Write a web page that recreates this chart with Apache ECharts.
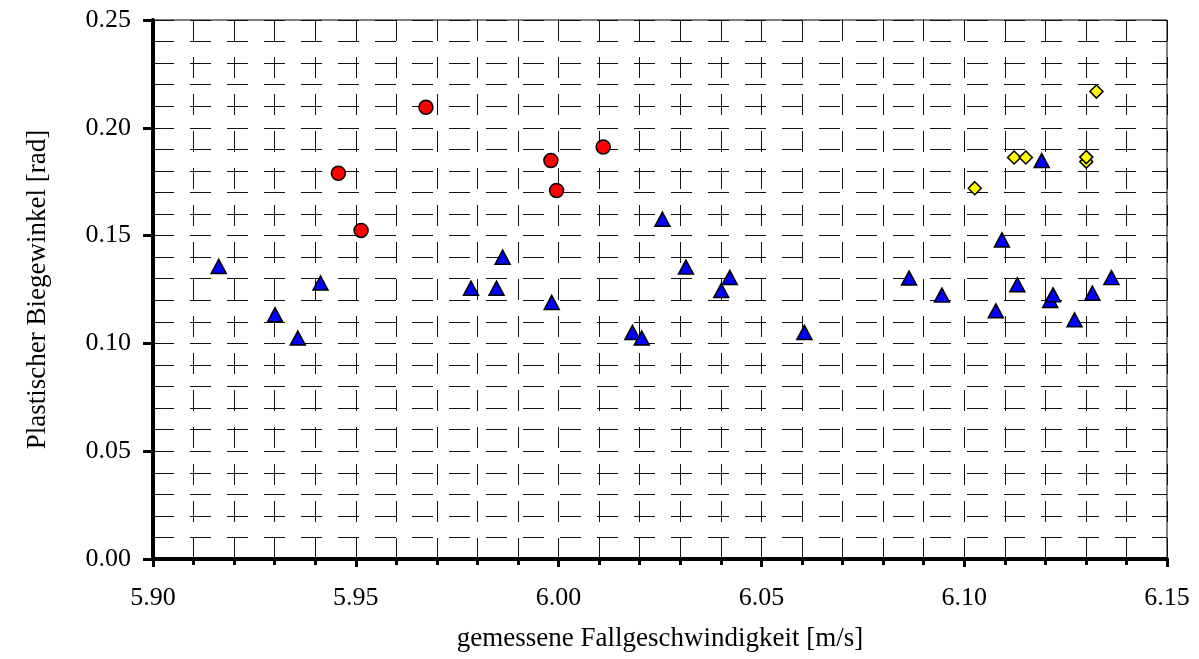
<!DOCTYPE html>
<html>
<head>
<meta charset="utf-8">
<script src="https://cdn.jsdelivr.net/npm/echarts@6/dist/echarts.min.js"></script>
<style>
  html, body { margin: 0; padding: 0; background: #fff; }
  #chart { width: 1199px; height: 659px; }
</style>
</head>
<body>
<div id="chart"></div>
<script>
// ===== data =====
const xTicks = [5.90, 5.95, 6.00, 6.05, 6.10, 6.15]
const yTicks = [0.00, 0.05, 0.10, 0.15, 0.20, 0.25]

const redX = [5.9457, 5.9513, 5.9673, 5.9981, 5.9995, 6.0110]
const redY = [0.1789, 0.1524, 0.2095, 0.1848, 0.1709, 0.1911]

const blueX = [
  5.9162, 5.9301, 5.9357, 5.9413, 5.9784, 5.9847, 5.9862, 5.9983, 6.0182,
  6.0205, 6.0256, 6.0314, 6.0401, 6.0422, 6.0606, 6.0864, 6.0945, 6.1078,
  6.1093, 6.1131, 6.1191, 6.1212, 6.1219, 6.1272, 6.1316, 6.1363,
]
const blueY = [
  0.1357, 0.1133, 0.1025, 0.1280, 0.1256, 0.1256, 0.1400, 0.1190, 0.1051,
  0.1025, 0.1576, 0.1354, 0.1245, 0.1306, 0.1051, 0.1303, 0.1224, 0.1151,
  0.1480, 0.1272, 0.1848, 0.1199, 0.1225, 0.1109, 0.1233, 0.1305,
]

const yellowX = [6.1026, 6.1123, 6.1152, 6.1301, 6.1301, 6.1326]
const yellowY = [0.1720, 0.1862, 0.1862, 0.1843, 0.1864, 0.2168]

const xName = 'gemessene Fallgeschwindigkeit [m/s]'
const yName = 'Plastischer Biegewinkel [rad]'

// ===== helpers =====
const FONT = '"Liberation Serif", "Times New Roman", serif'
const zip = (xs, ys) => xs.map((x, i) => [x, ys[i]])
const gridLine = { color: '#111', width: 1, type: [21, 16] }

const chart = echarts.init(document.getElementById('chart'))

chart.setOption({
  animation: false,
  backgroundColor: '#fff',
  grid: {
    left: 153, right: 32, top: 20, bottom: 100,
    show: true, borderColor: '#000', borderWidth: 1,
  },
  xAxis: {
    type: 'value',
    min: xTicks[0],
    max: xTicks[xTicks.length - 1],
    interval: 0.05,
    name: xName,
    nameLocation: 'middle',
    nameGap: 66,
    nameTextStyle: { fontFamily: FONT, fontSize: 27, color: '#000' },
    axisLine: { onZero: false, lineStyle: { color: '#000', width: 4 } },
    axisTick: { show: true, length: 8, lineStyle: { color: '#000', width: 3 } },
    minorTick: { show: true, splitNumber: 5, length: 6, lineStyle: { color: '#000', width: 3 } },
    axisLabel: {
      margin: 26, fontFamily: FONT, fontSize: 26, color: '#000',
      formatter: v => v.toFixed(2),
    },
    splitLine: { show: true, lineStyle: gridLine },
    minorSplitLine: { show: true, lineStyle: gridLine },
  },
  yAxis: {
    type: 'value',
    min: yTicks[0],
    max: yTicks[yTicks.length - 1],
    interval: 0.05,
    name: yName,
    nameLocation: 'middle',
    nameGap: 102,
    nameTextStyle: { fontFamily: FONT, fontSize: 27, color: '#000' },
    axisLine: { onZero: false, lineStyle: { color: '#000', width: 4 } },
    axisTick: { show: true, length: 10, lineStyle: { color: '#000', width: 3 } },
    minorTick: { show: false, splitNumber: 5 },
    axisLabel: {
      margin: 22, fontFamily: FONT, fontSize: 26, color: '#000',
      formatter: v => v.toFixed(2),
    },
    splitLine: { show: true, lineStyle: gridLine },
    minorSplitLine: { show: true, lineStyle: gridLine },
  },
  series: [
    {
      type: 'scatter',
      data: zip(redX, redY),
      symbol: 'circle',
      symbolSize: 14,
      itemStyle: { color: '#ff0000', borderColor: '#000', borderWidth: 1.5, opacity: 1 },
    },
    {
      type: 'scatter',
      data: zip(blueX, blueY),
      symbol: 'triangle',
      symbolSize: [15, 14],
      itemStyle: { color: '#0000ff', borderColor: '#000', borderWidth: 1.5, opacity: 1 },
    },
    {
      type: 'scatter',
      data: zip(yellowX, yellowY),
      symbol: 'diamond',
      symbolSize: 13,
      itemStyle: { color: '#ffff00', borderColor: '#000', borderWidth: 1.5, opacity: 1 },
    },
  ],
})
</script>
</body>
</html>
